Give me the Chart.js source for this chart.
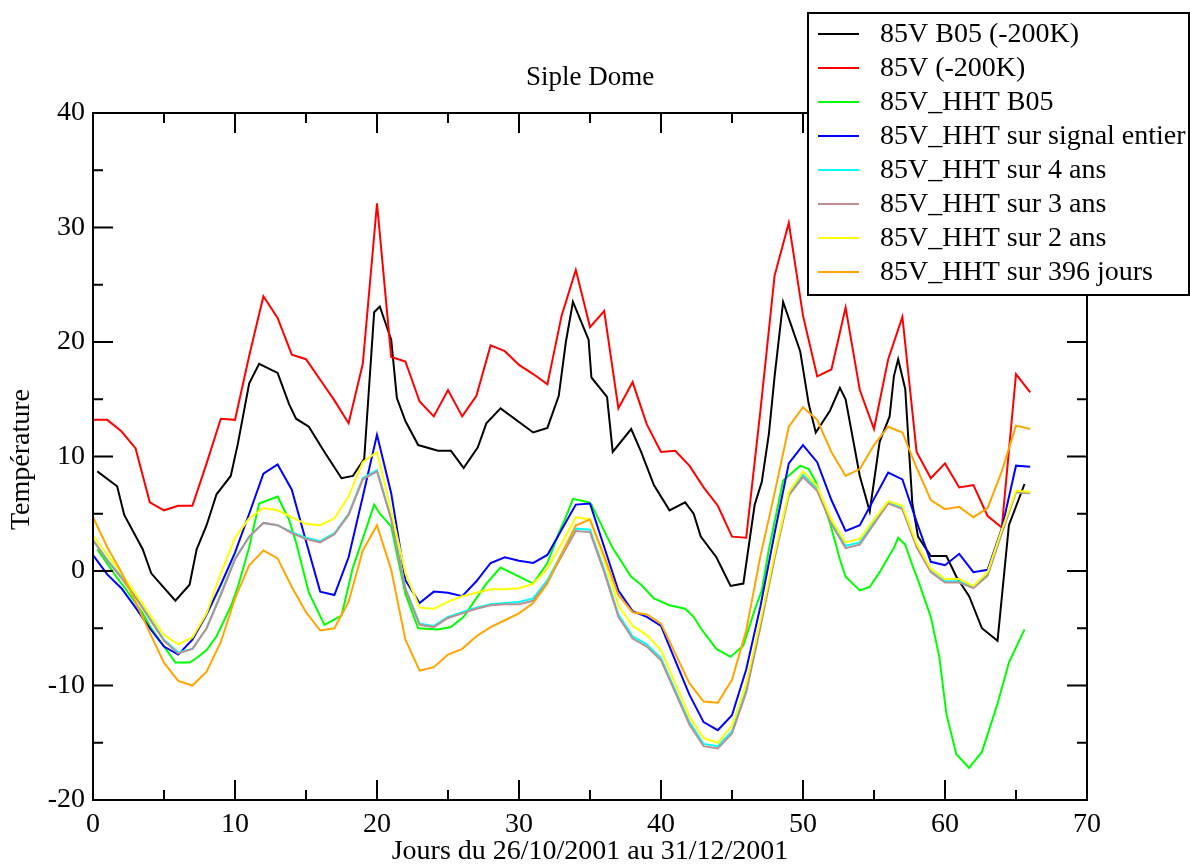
<!DOCTYPE html>
<html>
<head>
<meta charset="utf-8">
<script src="https://cdn.jsdelivr.net/npm/chart.js@4"></script>
<style>
  body { margin: 0; background: #fff; }
  canvas { display: block; }
</style>
</head>
<body>
<canvas id="chart" width="1190" height="866"></canvas>
<script>
// daily samples (jours)
var days = [0, 1, 2, 3, 4, 5, 6, 7, 8, 9,
    10, 11, 12, 13, 14, 15, 16, 17, 18, 19,
    20, 21, 22, 23, 24, 25, 26, 27, 28, 29,
    30, 31, 32, 33, 34, 35, 36, 37, 38, 39,
    40, 41, 42, 43, 44, 45, 46, 47, 48, 49,
    50, 51, 52, 53, 54, 55, 56, 57, 58, 59,
    60, 61, 62, 63, 64, 65, 66];

// B05 series have their own (irregular) time sampling
var b05Days = [0.3, 1.7, 2.2, 3.5, 4.1, 5.8, 6.8, 7.3, 8.0, 8.7,
    9.7, 10.2, 11.0, 11.7, 13.0, 13.8, 14.3, 15.2, 16.3, 17.5,
    18.3, 19.1, 19.8, 20.2, 21.0, 21.4, 22.0, 22.9, 24.3, 25.2,
    26.1, 27.1, 27.7, 28.7, 31.0, 32.0, 32.8, 33.3, 33.8, 34.9,
    35.1, 36.2, 36.6, 37.9, 38.6, 39.5, 40.6, 41.7, 42.3, 42.8,
    43.9, 44.9, 45.8, 46.6, 47.1, 47.6, 48.0, 48.6, 49.8, 50.4,
    50.9, 51.9, 52.6, 53.0, 54.0, 54.7, 55.4, 56.1, 56.4, 56.7,
    57.2, 57.7, 58.1, 59.0, 59.6, 60.1, 60.8, 61.7, 62.6, 63.7,
    64.5, 65.6];

var b05Black = [8.7, 7.4, 4.9, 1.9, -0.2, -2.6, -1.2, 1.9, 4.0, 6.7,
    8.3, 11.1, 16.4, 18.1, 17.3, 14.6, 13.3, 12.6, 10.4, 8.1,
    8.3, 9.8, 22.6, 23.1, 20.2, 15.1, 13.1, 11.0, 10.5, 10.5,
    9.0, 10.8, 12.9, 14.2, 12.1, 12.5, 15.3, 20.0, 23.5, 20.2,
    16.9, 15.2, 10.4, 12.4, 10.4, 7.5, 5.3, 6.0, 5.0, 3.0,
    1.2, -1.3, -1.1, 5.8, 7.8, 12.0, 17.0, 23.5, 19.2, 14.6,
    12.1, 14.0, 16.0, 15.0, 8.3, 5.2, 11.3, 13.5, 17.0, 18.5,
    15.9, 5.9, 3.0, 1.3, 1.3, 1.3, -0.5, -2.2, -5.0, -6.1,
    4.0, 7.6];

var raw85V = [13.2, 13.2, 12.2, 10.7, 6.0, 5.3, 5.7, 5.7, 9.4, 13.3,
    13.2, 18.8, 24.0, 22.1, 18.9, 18.5, 16.7, 14.9, 12.9, 18.1,
    32.1, 18.7, 18.3, 14.8, 13.5, 15.8, 13.5, 15.3, 19.7, 19.2,
    18.0, 17.2, 16.3, 22.3, 26.3, 21.3, 22.7, 14.2, 16.5, 12.8,
    10.4, 10.5, 9.2, 7.3, 5.7, 3.0, 2.9, 14.0, 25.8, 30.4,
    22.3, 17.0, 17.6, 23.0, 15.8, 12.4, 18.5, 22.2, 10.4, 8.1,
    9.4, 7.3, 7.5, 4.8, 3.8, 17.2, 15.6];

var hhtB05 = [1.9, -0.6, -1.4, -3.7, -5.0, -8.0, -8.0, -7.6, -6.9, -5.7,
    -3.1, -1.4, 2.1, 5.9, 6.5, 4.5, 2.5, -1.9, -4.7, -3.9,
    0.3, 3.2, 5.8, 5.0, 3.9, 1.5, -2.0, -5.0, -5.1, -4.9,
    -4.0, -2.2, -1.1, 0.3, -1.1, 0.7, 3.3, 4.7, 6.3, 6.0,
    5.8, 3.0, 2.0, -0.5, -1.2, -2.4, -3.0, -3.3, -4.0, -5.0,
    -6.8, -7.5, -6.5, -3.4, -1.7, 1.9, 4.3, 7.9, 9.2, 8.9,
    7.8, 4.2, 1.0, -0.5, -1.7, -1.4, -0.1, 1.4, 2.0, 2.9,
    2.3, 0.5, -0.8, -4.0, -7.5, -12.5, -16.0, -17.2, -15.8, -11.6,
    -8.0, -5.1];

var hhtEntier = [1.4, -0.3, -1.5, -3.2, -5.0, -6.6, -7.3, -6.0, -3.8, -1.2,
    1.6, 5.0, 8.5, 9.3, 7.1, 2.6, -1.8, -2.1, 1.2, 6.5,
    11.9, 6.8, -0.8, -2.8, -1.8, -1.9, -2.2, -0.9, 0.7, 1.2,
    0.9, 0.7, 1.4, 3.6, 5.8, 5.9, 2.1, -1.7, -3.5, -4.0,
    -4.8, -7.8, -10.8, -13.2, -13.9, -12.6, -8.6, -3.1, 3.3, 9.4,
    11.0, 9.5, 6.2, 3.5, 4.0, 6.3, 8.6, 8.0, 4.3, 0.8,
    0.5, 1.5, -0.1, 0.1, 3.7, 9.2, 9.1];

var hht4ans = [2.7, 1.0, -0.5, -2.2, -4.1, -6.0, -7.1, -6.8, -5.0, -2.0,
    1.1, 3.0, 4.2, 4.0, 3.4, 2.9, 2.6, 3.3, 5.0, 8.1,
    8.8, 4.6, -1.5, -4.6, -4.8, -4.0, -3.6, -3.2, -2.9, -2.8,
    -2.7, -2.4, -0.8, 1.5, 3.7, 3.6, 0.1, -3.8, -5.7, -6.4,
    -7.6, -10.4, -13.2, -15.1, -15.3, -14.0, -10.4, -4.7, 1.3, 6.8,
    8.4, 7.2, 4.3, 2.2, 2.5, 4.3, 6.0, 5.5, 2.2, 0.0,
    -0.9, -0.9, -1.4, -0.3, 3.4, 6.9, 6.8];

var hht3ans = [2.7, 0.9, -0.6, -2.3, -4.2, -6.1, -7.2, -6.8, -5.0, -2.1,
    1.0, 3.0, 4.2, 4.0, 3.3, 2.8, 2.5, 3.2, 4.9, 8.0,
    8.7, 4.5, -1.6, -4.7, -4.9, -4.1, -3.7, -3.3, -3.0, -2.9,
    -2.9, -2.6, -1.0, 1.3, 3.5, 3.4, -0.1, -4.0, -5.9, -6.6,
    -7.8, -10.6, -13.4, -15.3, -15.5, -14.2, -10.6, -4.9, 1.1, 6.6,
    8.2, 7.0, 4.1, 2.0, 2.3, 4.1, 5.9, 5.4, 2.1, -0.1,
    -1.0, -1.0, -1.5, -0.4, 3.3, 6.9, 6.8];

var hht2ans = [3.1, 1.4, -0.2, -2.0, -3.8, -5.6, -6.4, -5.8, -3.7, -0.2,
    2.9, 4.6, 5.5, 5.3, 4.7, 4.1, 4.0, 4.6, 6.5, 9.5,
    10.4, 5.3, -0.2, -3.2, -3.3, -2.7, -2.2, -1.9, -1.6, -1.6,
    -1.5, -1.1, 0.2, 2.4, 4.7, 4.5, 1.0, -3.0, -4.8, -5.6,
    -6.9, -9.8, -12.7, -14.6, -15.0, -13.5, -9.8, -4.3, 1.5, 6.9,
    8.7, 7.4, 4.5, 2.5, 2.8, 4.5, 6.1, 5.7, 2.4, 0.2,
    -0.7, -0.7, -1.3, -0.1, 3.6, 7.0, 6.9];

var hht396 = [4.7, 2.1, -0.1, -2.7, -5.4, -8.0, -9.6, -10.0, -8.8, -6.2,
    -2.4, 0.5, 1.8, 1.1, -1.4, -3.6, -5.2, -5.0, -2.7, 1.8,
    4.0, 0.1, -6.0, -8.7, -8.4, -7.3, -6.8, -5.7, -4.9, -4.3,
    -3.7, -2.8, -1.1, 1.5, 4.0, 4.5, 1.3, -2.1, -3.6, -3.8,
    -4.6, -7.2, -9.8, -11.4, -11.5, -9.5, -5.2, 1.3, 6.8, 12.6,
    14.3, 13.2, 10.4, 8.3, 8.9, 11.0, 12.6, 12.1, 9.0, 6.2,
    5.4, 5.6, 4.7, 5.5, 8.7, 12.7, 12.4];

var seriesNames = ['85V B05 (-200K)', '85V (-200K)', '85V_HHT B05', '85V_HHT sur signal entier',
    '85V_HHT sur 4 ans', '85V_HHT sur 3 ans', '85V_HHT sur 2 ans', '85V_HHT sur 396 jours'];
var seriesColors = ['#000000', '#ff0000', '#00ff00', '#0000ff',
    '#00ffff', '#bc8f8f', '#ffff00', '#ffa500'];
var seriesX = [b05Days, days, b05Days, days, days, days, days, days];
var seriesY = [b05Black, raw85V, hhtB05, hhtEntier, hht4ans, hht3ans, hht2ans, hht396];

var SERIF = "'Liberation Serif', 'DejaVu Serif', serif";

function toPoints(xs, ys) {
    var pts = [];
    for (let i = 0; i < xs.length; i++) {
        pts.push({ x: xs[i], y: ys[i] });
    }
    return pts;
}

var datasets = [];
for (let i = 0; i < seriesNames.length; i++) {
    datasets.push({
        label: seriesNames[i],
        data: toPoints(seriesX[i], seriesY[i]),
        borderColor: seriesColors[i],
        backgroundColor: seriesColors[i],
        borderWidth: 2,
        pointRadius: 0,
        tension: 0,
        fill: false,
        // grace draws the last set on top
        order: seriesNames.length - i,
    });
}

// frame, inward ticks, titles and the boxed legend (grace style)
var gracePlugin = {
    id: 'grace',
    afterDatasetsDraw(chart) {
        var c = chart.ctx;
        var a = chart.chartArea;
        var xs = chart.scales.x, ys = chart.scales.y;
        c.save();
        c.strokeStyle = '#000';
        c.lineWidth = 2;
        c.strokeRect(a.left, a.top, a.right - a.left, a.bottom - a.top);
        c.beginPath();
        for (let v = 5; v < 70; v += 5) {
            let len = (v % 10 == 0) ? 20 : 10;
            let px = xs.getPixelForValue(v);
            c.moveTo(px, a.bottom); c.lineTo(px, a.bottom - len);
            c.moveTo(px, a.top); c.lineTo(px, a.top + len);
        }
        for (let v = -15; v < 40; v += 5) {
            let len = (v % 10 == 0) ? 20 : 10;
            let py = ys.getPixelForValue(v);
            c.moveTo(a.left, py); c.lineTo(a.left + len, py);
            c.moveTo(a.right, py); c.lineTo(a.right - len, py);
        }
        c.stroke();

        c.fillStyle = '#000';
        c.textAlign = 'center';
        c.textBaseline = 'middle';
        c.font = '27px ' + SERIF;
        c.fillText('Siple Dome', (a.left + a.right) / 2, 78);
        c.font = '28px ' + SERIF;
        c.fillText('Jours du 26/10/2001 au 31/12/2001', (a.left + a.right) / 2, 852);
        c.save();
        c.translate(22, (a.top + a.bottom) / 2 + 3);
        c.rotate(-Math.PI / 2);
        c.fillText('Température', 0, 0);
        c.restore();

        // legend box
        c.fillStyle = '#fff';
        c.fillRect(808, 13, 381, 282);
        c.strokeStyle = '#000';
        c.lineWidth = 2;
        c.strokeRect(808, 13, 381, 282);
        c.font = '28px ' + SERIF;
        c.textAlign = 'left';
        chart.data.datasets.forEach(function (ds, i) {
            let y = 34 + 34 * i;
            c.strokeStyle = ds.borderColor;
            c.lineWidth = 2;
            c.beginPath();
            c.moveTo(818, y);
            c.lineTo(859, y);
            c.stroke();
            c.fillStyle = '#000';
            c.fillText(ds.label, 880, y + 1);
        });
        c.restore();
    },
};

var ctx = document.getElementById('chart').getContext('2d');
var chart = new Chart(ctx, {
    type: 'line',
    data: { datasets: datasets },
    options: {
        responsive: false,
        animation: false,
        events: [],
        layout: { padding: { top: 113, right: 103, left: 0, bottom: 0 } },
        plugins: {
            legend: { display: false },
            title: { display: false },
            tooltip: { enabled: false },
        },
        scales: {
            x: {
                type: 'linear',
                min: 0,
                max: 70,
                grid: { display: false, drawTicks: false },
                border: { display: false },
                ticks: {
                    stepSize: 10,
                    padding: 8,
                    maxRotation: 0,
                    color: '#000',
                    font: { family: SERIF, size: 28 },
                },
                afterFit: function (s) { s.height = 66; },
            },
            y: {
                type: 'linear',
                min: -20,
                max: 40,
                grid: { display: false, drawTicks: false },
                border: { display: false },
                ticks: {
                    stepSize: 10,
                    padding: 8,
                    color: '#000',
                    font: { family: SERIF, size: 28 },
                },
                afterFit: function (s) { s.width = 93; },
            },
        },
    },
    plugins: [gracePlugin],
});
</script>
</body>
</html>
